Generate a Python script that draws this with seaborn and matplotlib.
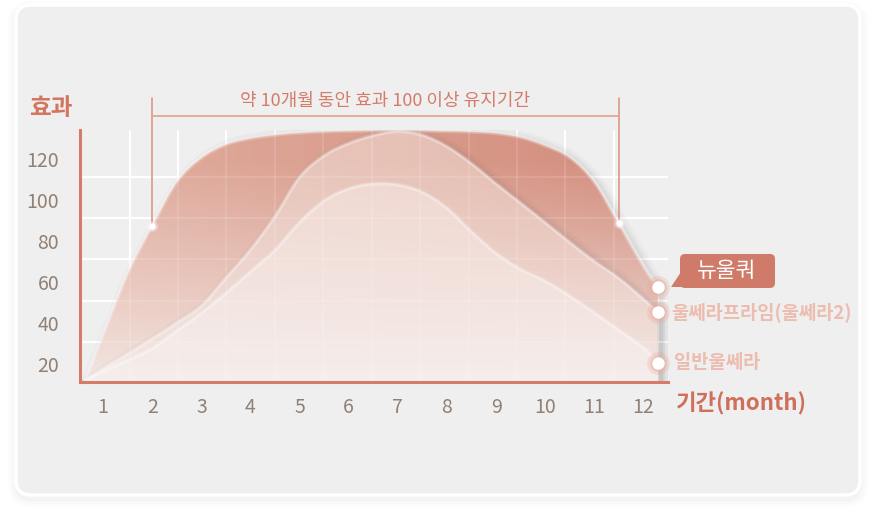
import numpy as np
import pandas as pd
import seaborn as sns
import matplotlib
matplotlib.use("Agg")
import matplotlib.pyplot as plt
from matplotlib.patches import FancyBboxPatch, PathPatch, Polygon
from matplotlib.path import Path
from matplotlib.colors import to_rgb

# data
months = [0.63, 1.0, 1.5, 2.0, 2.5, 3.0, 3.5, 4.0, 4.5, 5.0, 5.5, 6.0, 6.5,
          7.0, 7.5, 8.0, 8.5, 9.0, 9.5, 10.0, 10.5, 11.0, 11.5, 12.0, 12.29]
new_ulquar = [12, 34.5, 64.3, 87.5, 108.8, 120.5, 127.0, 130.0, 131.7, 132.7, 133.3, 133.6, 133.8,
              133.8, 133.7, 133.5, 133.2, 132.5, 130.5, 126.5, 120.7, 108.7, 88.5, 67.7, 57.5]
prime = [12, 17.8, 25.0, 32.5, 40.2, 48.4, 62.0, 75.7, 92.0, 111.0, 121.5, 127.5, 131.3,
         133.3, 131.5, 126.0, 117.7, 107.9, 98.5, 89.0, 79.4, 70.2, 61.9, 51.8, 45.5]
basic = [12, 16.4, 21.9, 27.6, 36.2, 44.8, 54.6, 65.0, 75.5, 89.0, 99.5, 105.4, 107.8,
         107.3, 103.7, 96.0, 84.5, 74.0, 66.2, 60.5, 53.2, 45.0, 36.6, 28.0, 20.5]
series_names = ['뉴울쿼', '울쎄라프라임(울쎄라2)', '일반울쎄라']
x_ticks = list(range(1, 13))
y_ticks = [20, 40, 60, 80, 100, 120]
bracket_months = [2.0, 11.5]
bracket_text = '약 10개월 동안 효과 100 이상 유지기간'

df = pd.DataFrame({'month': months, series_names[0]: new_ulquar,
                   series_names[1]: prime, series_names[2]: basic})

sns.set_theme(style='white')
plt.rcParams['font.family'] = ['Noto Sans CJK KR', 'DejaVu Sans']

W, H = 879, 526
fig = plt.figure(figsize=(W / 100, H / 100), dpi=100)
fig.patch.set_facecolor('white')

# background panel (pixel coords)
bg = fig.add_axes([0, 0, 1, 1], zorder=-5)
bg.set_xlim(0, W)
bg.set_ylim(H, 0)
bg.axis('off')
for i, a in enumerate([0.012, 0.015, 0.02]):
    grow = 8 - i * 3
    bg.add_patch(FancyBboxPatch((16 - grow, 5 - grow + 4), 844 + 2 * grow, 490 + 2 * grow,
                                boxstyle='round,pad=0,rounding_size=%d' % (15 + grow),
                                fc='black', ec='none', alpha=a))
bg.add_patch(FancyBboxPatch((16, 5), 844, 490, boxstyle='round,pad=0,rounding_size=15',
                            fc='#efefef', ec='white', lw=2.5))

XL = (0.53, 12.5)
YL = (11.5, 134)
ax = fig.add_axes([80 / W, 1 - 381.7 / H, (668 - 80) / W, (381.7 - 130) / H])
ax.set_facecolor('none')
ax.set_xlim(*XL)
ax.set_ylim(*YL)

# grid (offset between labels like in the design)
vgrid = [1.54, 2.53, 3.51, 4.50, 5.48, 6.47, 7.46, 8.44, 9.43, 10.41, 11.40]
hgrid = [31, 51, 71, 91, 111]
for g in vgrid:
    ax.axvline(g, color='white', lw=1.6, zorder=0.5)
    ax.axvline(g, color='white', lw=1.2, alpha=0.15, zorder=6)
for g in hgrid:
    ax.axhline(g, color='white', lw=1.6, zorder=0.5)
    ax.axhline(g, color='white', lw=1.2, alpha=0.15, zorder=6)


def smooth(x, y, dx=0.0, dy=0.0):
    # catmull-rom through the points, as bezier segments
    pts = np.column_stack([np.asarray(x) + dx, np.asarray(y) + dy])
    verts = [pts[0]]
    codes = [Path.MOVETO]
    n = len(pts)
    for i in range(n - 1):
        p0 = pts[i - 1] if i > 0 else pts[i]
        p1, p2 = pts[i], pts[i + 1]
        p3 = pts[i + 2] if i + 2 < n else pts[i + 1]
        verts += [p1 + (p2 - p0) / 6, p2 - (p3 - p1) / 6, p2]
        codes += [Path.CURVE4] * 3
    return verts, codes


def grad_fill(col, top_l, top_r, bot, z, shadow=False):
    x = df['month'].values
    y = df[col].values
    verts, codes = smooth(x, y)
    area = Path(verts + [(x[-1], YL[0]), (x[0], YL[0]), (x[0], YL[0])],
                codes + [Path.LINETO, Path.LINETO, Path.CLOSEPOLY])
    clip = PathPatch(area, transform=ax.transData, fc='none', ec='none')
    ax.add_patch(clip)
    nx, ny = 300, 300
    gx = np.linspace(0, 1, nx)
    gv = np.linspace(YL[0], YL[1], ny)
    X, V = np.meshgrid(gx, gv)
    tl, tr, b = np.array(to_rgb(top_l)), np.array(to_rgb(top_r)), np.array(to_rgb(bot))
    top = tl * (1 - X[..., None]) + tr * X[..., None]
    t = np.clip((V - 14) / 105, 0, 1)[..., None] ** 0.85
    img = b * (1 - t) + top * t
    im = ax.imshow(img, extent=[XL[0], XL[1], YL[0], YL[1]], origin='lower',
                   aspect='auto', zorder=z, interpolation='bilinear')
    im.set_clip_path(clip)
    if shadow:
        sv, sc = smooth(x, y, 0.07, -0.8)
        sv = sv + [(x[-1] + 0.07, YL[0])]
        sc = sc + [Path.LINETO]
        for lw, a in [(10, 0.035), (6, 0.045), (3, 0.05)]:
            ax.add_patch(PathPatch(Path(sv, sc), fc='none', ec='#555555', lw=lw,
                                   alpha=a, zorder=z - 0.2, capstyle='round'))
    edge = Path(verts, codes)
    ax.add_patch(PathPatch(edge, fc='none', ec='white', lw=3, alpha=0.22, zorder=z + 0.1))
    ax.add_patch(PathPatch(edge, fc='none', ec='white', lw=1.2, alpha=0.3, zorder=z + 0.1))


grad_fill(series_names[0], '#e1ae9f', '#d28c7c', '#f3e6e2', 2, shadow=True)
grad_fill(series_names[1], '#eacbc1', '#e4b9ad', '#f4e9e6', 3, shadow=True)
grad_fill(series_names[2], '#f1dad3', '#efd3cb', '#f5eeec', 4)

# spines & ticks
for s in ['top', 'right']:
    ax.spines[s].set_visible(False)
for s in ['left', 'bottom']:
    ax.spines[s].set_color('#d47c69')
    ax.spines[s].set_linewidth(2.2)
    ax.spines[s].set_zorder(8)
ax.set_xticks(x_ticks)
ax.set_yticks(y_ticks)
ax.tick_params(axis='both', length=0, labelsize=14, labelcolor='#918074')
ax.tick_params(axis='x', pad=11)
ax.tick_params(axis='y', pad=15)

# bracket
top_vals = np.interp(bracket_months, months, new_ulquar)
for bm, bv in zip(bracket_months, top_vals):
    ax.plot([bm, bm], [bv, 149.7], color='#d9907f', lw=1.1, zorder=7, clip_on=False)
    ax.scatter([bm], [bv], s=60, color='white', alpha=0.35, lw=0, zorder=9, clip_on=False)
    ax.scatter([bm], [bv], s=22, color='white', lw=0, zorder=9, clip_on=False)
ax.plot(bracket_months, [140.6, 140.6], color='#e2a797', lw=1.3, zorder=7, clip_on=False)
ax.text(np.mean(bracket_months), 143.6, bracket_text, ha='center', va='bottom',
        fontsize=13, color='#d47c69', clip_on=False)

# end dots
ends = pd.DataFrame({'month': [df['month'].iloc[-1]] * 3,
                     'value': [df[c].iloc[-1] for c in series_names],
                     'series': series_names})
sns.scatterplot(data=ends, x='month', y='value', ax=ax, s=270, color='#e7a594',
                alpha=0.25, linewidth=0, zorder=9, clip_on=False, legend=False)
sns.scatterplot(data=ends, x='month', y='value', ax=ax, s=145, color='#e9ae9f',
                alpha=0.45, linewidth=0, zorder=9, clip_on=False, legend=False)
sns.scatterplot(data=ends, x='month', y='value', ax=ax, s=80, color='white',
                linewidth=0, zorder=10, clip_on=False, legend=False)
ax.set_xlabel('')
ax.set_ylabel('')

# axis titles and labels (pixel coords)
bg.text(29, 108, '효과', fontsize=17, fontweight='bold', color='#d47560', va='center',
        ha='left', zorder=10)
ov = fig.add_axes([0, 0, 1, 1], zorder=20)
ov.set_xlim(0, W)
ov.set_ylim(H, 0)
ov.axis('off')
ov.text(676, 404, '기간(month)', fontsize=16, fontweight='bold', color='#d06f5b',
        va='center', ha='left')
ov.text(671, 312, series_names[1], fontsize=13.5, fontweight='bold', color='#ecbcaf',
        va='center', ha='left')
ov.text(674, 362, series_names[2], fontsize=13.5, fontweight='bold', color='#ecbcaf',
        va='center', ha='left')
ov.add_patch(FancyBboxPatch((680, 254), 95, 34, boxstyle='round,pad=0,rounding_size=5',
                            fc='#d07b69', ec='none'))
ov.add_patch(Polygon([[681, 272], [671, 287], [692, 287]], closed=True, fc='#d07b69', ec='none'))
ov.text(727, 271, series_names[0], fontsize=15.5, color='white', va='center', ha='center',
        fontweight='light')

fig.savefig('out.png', dpi=100, facecolor='white')
